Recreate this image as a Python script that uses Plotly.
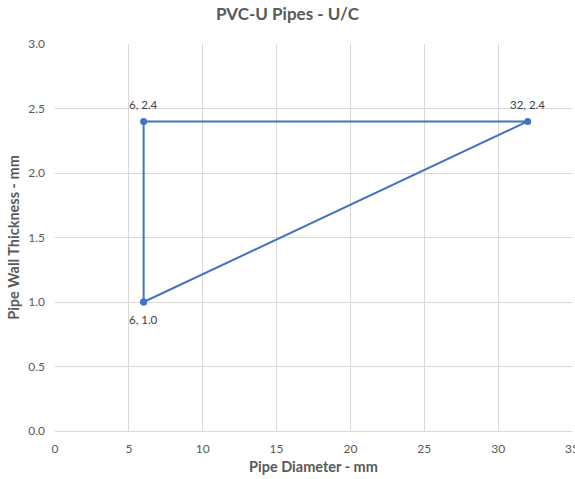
import plotly.graph_objects as go

# Data
diameter_mm = [6, 6, 32, 6]
thickness_mm = [1.0, 2.4, 2.4, 1.0]
label_x = [6, 6, 32]
label_y = [1.0, 2.4, 2.4]
label_text = ["6, 1.0", "6, 2.4", "32, 2.4"]
label_below = [True, False, False]

x_ticks = [0, 5, 10, 15, 20, 25, 30, 35]
y_ticks = [0.0, 0.5, 1.0, 1.5, 2.0, 2.5, 3.0]

FONT = "Lato, 'Open Sans', sans-serif"
GRAY = "#595959"
GRID = "#d9d9d9"
BLUE = "#4472C4"

fig = go.Figure()
fig.add_trace(go.Scatter(
    x=diameter_mm,
    y=thickness_mm,
    mode="lines+markers",
    line=dict(color=BLUE, width=2),
    marker=dict(color=BLUE, size=7),
    cliponaxis=False,
    showlegend=False,
    hoverinfo="x+y",
))

for lx, ly, lt, below in zip(label_x, label_y, label_text, label_below):
    fig.add_annotation(
        x=lx, y=ly, text=lt, showarrow=False,
        yshift=-17 if below else 17,
        font=dict(family=FONT, size=11.5, color="#404040"),
    )

fig.update_layout(
    width=575,
    height=479,
    paper_bgcolor="white",
    plot_bgcolor="white",
    margin=dict(l=55, r=3, t=44, b=48, autoexpand=False),
    title=dict(
        text="<b>PVC-U Pipes - U/C</b>",
        x=0.5, xanchor="center",
        y=0.971, yanchor="middle",
        font=dict(family=FONT, size=17, color=GRAY),
    ),
    font=dict(family=FONT, color=GRAY),
)

fig.update_xaxes(
    range=[0, 35],
    tickvals=x_ticks,
    ticktext=[str(v) for v in x_ticks],
    showgrid=True, gridcolor=GRID, gridwidth=1,
    zeroline=False,
    showline=True, linecolor=GRID, linewidth=1,
    ticks="",
    automargin=False,
    ticklabeloverflow="allow",
    ticklabelstandoff=7,
    tickfont=dict(family=FONT, size=12, color=GRAY),
    title=dict(text="<b>Pipe Diameter - mm</b>", font=dict(family=FONT, size=14.5, color=GRAY), standoff=6),
)
fig.update_yaxes(
    range=[0, 3.0],
    tickvals=y_ticks,
    ticktext=[f"{v:.1f}" for v in y_ticks],
    showgrid=True, gridcolor=GRID, gridwidth=1,
    zeroline=False,
    showline=False,
    ticks="",
    automargin=False,
    ticklabeloverflow="allow",
    ticklabelstandoff=9,
    tickfont=dict(family=FONT, size=12, color=GRAY),
    title=dict(text="<b>Pipe Wall Thickness - mm</b>", font=dict(family=FONT, size=14.5, color=GRAY), standoff=5),
)

fig.write_html(
    "out.html",
    config={"displayModeBar": False},
    post_script="document.body.style.margin='0';document.body.style.overflow='hidden';",
)
